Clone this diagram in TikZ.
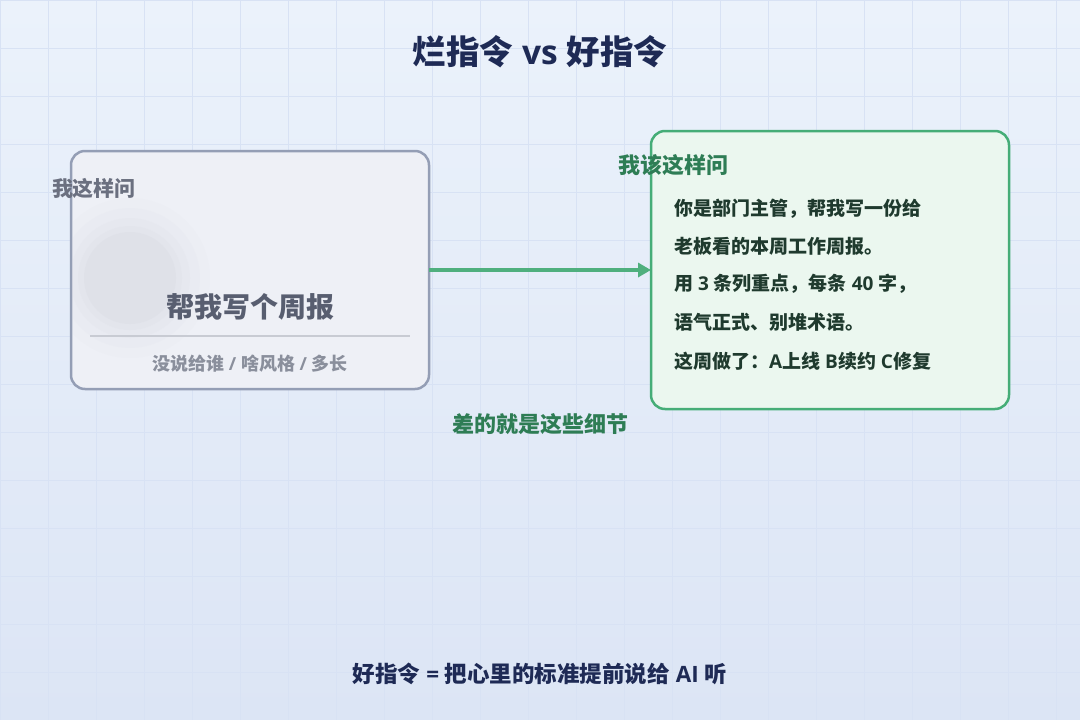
\documentclass[tikz,border=0pt]{standalone}
\usepackage{fontspec}
\setmainfont{Noto Sans CJK SC}
\newfontfamily\latf{Open Sans}
\newcommand{\lt}[1]{{\latf #1}}
\usetikzlibrary{arrows.meta}
\definecolor{bgtop}{HTML}{EBF2FB}
\definecolor{bgbot}{HTML}{DCE5F5}
\definecolor{gridc}{HTML}{D8E2F4}
\definecolor{navy}{HTML}{1E2A55}
\definecolor{badfill}{HTML}{EEF0F6}
\definecolor{badline}{HTML}{949EB5}
\definecolor{badlabel}{HTML}{6B7080}
\definecolor{badmain}{HTML}{585E70}
\definecolor{badsub}{HTML}{8A8F9C}
\definecolor{badrule}{HTML}{C8CBD3}
\definecolor{goodfill}{HTML}{EBF7EF}
\definecolor{goodline}{HTML}{45AD77}
\definecolor{goodlabel}{HTML}{2E7D55}
\definecolor{goodtext}{HTML}{1F3A2E}
\definecolor{arrowc}{HTML}{4FAF7E}
\definecolor{blob}{HTML}{D8DAE3}
\tikzset{
  x=1pt, y=-1pt,
  card/.style={rounded corners=14pt, line width=2.5pt},
  lbl/.style={font=\fontsize{21}{24}\selectfont\bfseries, inner sep=0pt},
  bodytxt/.style={font=\fontsize{19}{22}\selectfont\bfseries, text=goodtext, anchor=west, inner sep=0pt},
}
\begin{document}
\begin{tikzpicture}
\useasboundingbox (0,0) rectangle (1080,720);
% background
\shade[top color=bgtop, bottom color=bgbot] (0,0) rectangle (1080,720);
\foreach \i in {0,48,...,1080} {\draw[gridc, line width=0.8pt] (\i,0) -- (\i,720);}
\foreach \j in {0,48,...,720} {\draw[gridc, line width=0.8pt] (0,\j) -- (1080,\j);}
% title
\node[font=\fontsize{33.5}{38}\selectfont\bfseries, text=navy] (title) at (540,52) {烂指令\lt{ vs }好指令};
% bad card
\draw[card, draw=badline, fill=badfill] (71,151) rectangle (429,389);
\coordinate (badE) at (429,270);
\begin{scope}
\clip[rounded corners=13pt] (72,152) rectangle (428,388);
\foreach \r/\o in {80/0.08,70/0.10,60/0.14,52/0.2,46/0.35} {\fill[blob, opacity=\o] (130,278) circle (\r);}
\end{scope}
\node[lbl, text=badlabel] (badlbl) at (94,188) {我这样问};
\node[font=\fontsize{28}{32}\selectfont\bfseries, text=badmain] (badmain) at (250,307) {帮我写个周报};
\draw[badrule, line width=1.5pt] (90,336) -- (410,336);
\node[font=\fontsize{18}{20}\selectfont\bfseries, text=badsub] (badsub) at (250,364) {没说给谁\lt{ / }啥风格\lt{ / }多长};
% good card
\draw[card, draw=goodline, fill=goodfill] (651,131) rectangle (1009,409);
\coordinate (goodW) at (651,270);
\node[lbl, text=goodlabel, font=\fontsize{22}{26}\selectfont\bfseries] (goodlbl) at (673.5,165) {我该这样问};
\node[bodytxt] (l1) at (674,209) {你是部门主管，帮我写一份给};
\node[bodytxt] (l2) at (674,246) {老板看的本周工作周报。};
\node[bodytxt] (l3) at (674,284) {用\lt{ 3 }条列重点，每条\lt{ 40 }字，};
\node[bodytxt] (l4) at (674,322) {语气正式、别堆术语。};
\node[bodytxt] (l5) at (674,361) {这周做了：\lt{A}上线\lt{ B}续约\lt{ C}修复};
% arrow
\draw[arrowc, line width=4pt, -{Triangle[length=13pt,width=14pt]}] (badE) -- (goodW);
\node[lbl, text=goodlabel, font=\fontsize{22}{26}\selectfont\bfseries] (gap) at (540,424) {差的就是这些细节};
% footer
\node[font=\fontsize{22.5}{26}\selectfont\bfseries, text=navy] (foot) at (540,674) {好指令\lt{ = }把心里的标准提前说给\lt{ AI }听};
\end{tikzpicture}
\end{document}
